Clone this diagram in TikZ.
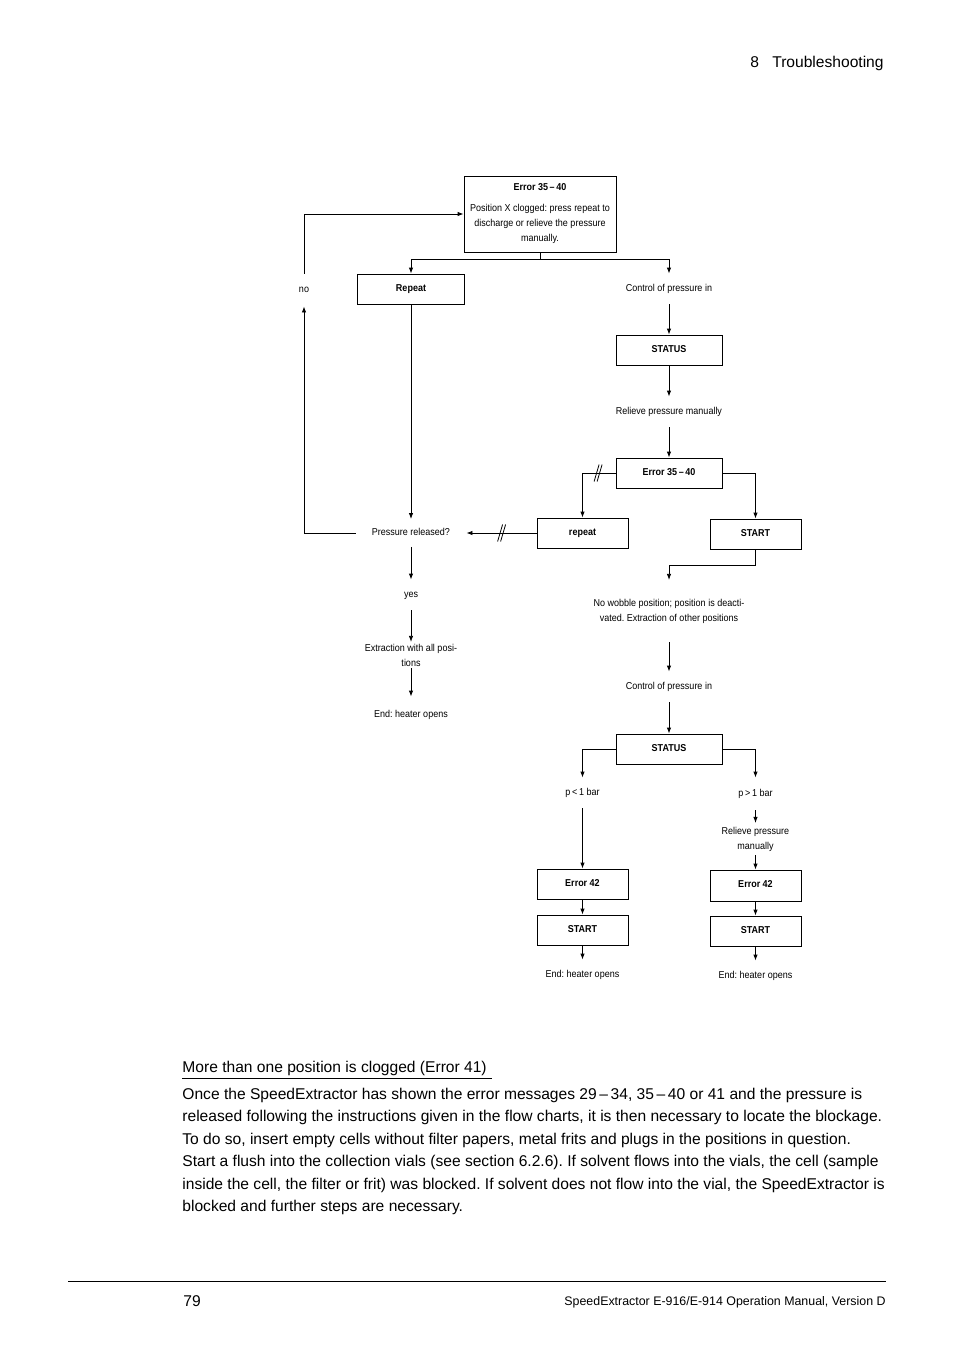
\documentclass[tikz,border=0pt]{standalone}
\usepackage{fontspec}
\setmainfont{Liberation Sans}
\newfontfamily\cond[FakeStretch=0.9]{Liberation Sans}
\usetikzlibrary{arrows.meta,calc}
\newcommand{\brk}[1]{\draw ([xshift=-1.5pt]#1) +(-2.5,8.5) -- +(2.5,-8.5);
  \draw ([xshift=1.5pt]#1) +(-2.5,8.5) -- +(2.5,-8.5);}
\frenchspacing

\begin{document}
\begin{tikzpicture}[x=1pt, y=-1pt, line width=0.8pt, >={Latex[length=6pt,width=4.4pt]},
  box/.style = {draw, font=\cond\bfseries, minimum height=30pt, inner sep=2pt, text height=6.5pt, text depth=2.5pt},
  lbl/.style = {font=\cond, inner xsep=16pt, inner ysep=10.5pt, text height=6.5pt, text depth=2.5pt},
  lbltwo/.style = {font=\cond\fontsize{10}{15}\selectfont, align=center, inner xsep=2pt, inner ysep=2pt},
  body/.style = {font=\fontsize{15.6}{22.5}\selectfont, inner sep=0pt}]
\useasboundingbox (0,0) rectangle (954,1350);

% page header
\node[body, anchor=base west] (chap) at (750,67.5) {8};
\node[body, anchor=base east] (hdr) at (884,67.5) {Troubleshooting};

% flow chart boxes
\node[draw, align=center, minimum width=152pt, minimum height=76pt, inner sep=2pt,
  font=\cond\fontsize{10}{15}\selectfont] (top) at (540,214)
  {\textbf{Error 35\,\textendash\,40}\\[6pt]Position X clogged: press repeat to\\discharge or relieve the pressure\\manually.};
\node[box, minimum width=107pt] (rep1) at (411,289) {Repeat};
\node[box, minimum width=106pt] (st1) at (669,350) {STATUS};
\node[box, minimum width=106pt] (err2) at (669,473) {Error 35\,\textendash\,40};
\node[box, minimum width=91pt] (rep2) at (582.5,533) {repeat};
\node[box, minimum width=91pt] (start1) at (755.5,534) {START};
\node[box, minimum width=106pt] (st2) at (669,749) {STATUS};
\node[box, minimum width=91pt] (err3) at (582.5,884) {Error 42};
\node[box, minimum width=91pt] (go3) at (582.5,930) {START};
\node[box, minimum width=91pt, minimum height=31pt] (err4) at (755.5,885.5) {Error 42};
\node[box, minimum width=91pt] (go4) at (755.5,931) {START};

% flow chart texts
\node[lbl, inner xsep=2pt, inner ysep=11.5pt] (no) at (304,290) {no};
\node[lbl] (ctrl1) at (669,289) {Control of pressure in};
\node[lbl] (relv1) at (669,412) {Relieve pressure manually};
\node[lbl, inner ysep=9pt] (relsd) at (411,533) {Pressure released?};
\node[lbltwo, inner ysep=18.5pt] (wob) at (669,611) {No wobble position; position is deacti-\\vated. Extraction of other positions};
\node[lbl] (ctrl2) at (669,687) {Control of pressure in};
\node[lbl] (plo) at (582.5,793) {p\,<\,1 bar};
\node[lbl, inner ysep=11.5pt] (phi) at (755.5,794) {p\,>\,1 bar};
\node[lbltwo, inner ysep=3.5pt] (relv2) at (755.5,839) {Relieve pressure\\manually};
\node[lbl] (end3) at (582.5,975) {End: heater opens};
\node[lbl] (end4) at (755.5,976) {End: heater opens};
\node[lbl] (yes) at (411,595) {yes};
\node[lbltwo, inner ysep=1.5pt] (ext) at (411,655) {Extraction with all posi-\\tions};
\node[lbl, inner ysep=13.5pt] (end1) at (411,715) {End: heater opens};

% connectors
\coordinate (split) at (540,259);
\draw (top.south) -- (split);
\draw[->] (split) -| (rep1.north);
\draw[->] (split) -| (ctrl1.north);
\draw[->] (rep1.south) -- (relsd.north);
\draw[->] (relsd.west) -| (no.south);
\draw[->] (no.north) |- (top.west);
\draw[->] (ctrl1.south) -- (st1.north);
\draw[->] (st1.south) -- (relv1.north);
\draw[->] (relv1.south) -- (err2.north);
\draw[->] (err2.west) -| (rep2.north);
\draw[->] (err2.east) -| (start1.north);
\draw[->] (rep2.west) -- (relsd.east);
\coordinate (cut1) at ($(err2.west)+(-17.5,0)$);
\coordinate (cut2) at ($(rep2.west)+(-35,0)$);
\brk{cut1}
\brk{cut2}
\draw[->] (start1.south) -- ++(0,16) -| (wob.north);
\draw[->] (wob.south) -- (ctrl2.north);
\draw[->] (ctrl2.south) -- (st2.north);
\draw[->] (st2.west) -| (plo.north);
\draw[->] (st2.east) -| (phi.north);
\draw[->] (plo.south) -- (err3.north);
\draw[->] (err3.south) -- (go3.north);
\draw[->] (go3.south) -- (end3.north);
\draw[->] (phi.south) -- (relv2.north);
\draw[->] (relv2.south) -- (err4.north);
\draw[->] (err4.south) -- (go4.north);
\draw[->] (go4.south) -- (end4.north);
\draw[->] (relsd.south) -- (yes.north);
\draw[->] (yes.south) -- (ext.north);
\draw[->] (ext.south) -- (end1.north);

% text below the chart
\node[body, anchor=base west] (head41) at (182,1072.5) {More than one position is clogged (Error 41)};
\draw ([yshift=-5.5pt]head41.base west) -- ([xshift=5pt,yshift=-5.5pt]head41.base east);
\node[body, anchor=north west, align=left] (para) at (182,1087.5)
  {Once the SpeedExtractor has shown the error messages 29\,\textendash\,34, 35\,\textendash\,40 or 41 and the pressure is\\
   released following the instructions given in the flow charts, it is then necessary to locate the blockage.\\
   To do so, insert empty cells without filter papers, metal frits and plugs in the positions in question.\\
   Start a flush into the collection vials (see section 6.2.6). If solvent flows into the vials, the cell (sample\\
   inside the cell, the filter or frit) was blocked. If solvent does not flow into the vial, the SpeedExtractor is\\
   blocked and further steps are necessary.};

% page footer
\draw (68,1281) -- (886,1281);
\node[body, anchor=base west] (pgno) at (183,1306) {79};
\node[body, font=\fontsize{12.4}{14}\selectfont, anchor=base east] (foot) at (886,1305.5) {SpeedExtractor E-916/E-914 Operation Manual, Version D};
\end{tikzpicture}
\end{document}
